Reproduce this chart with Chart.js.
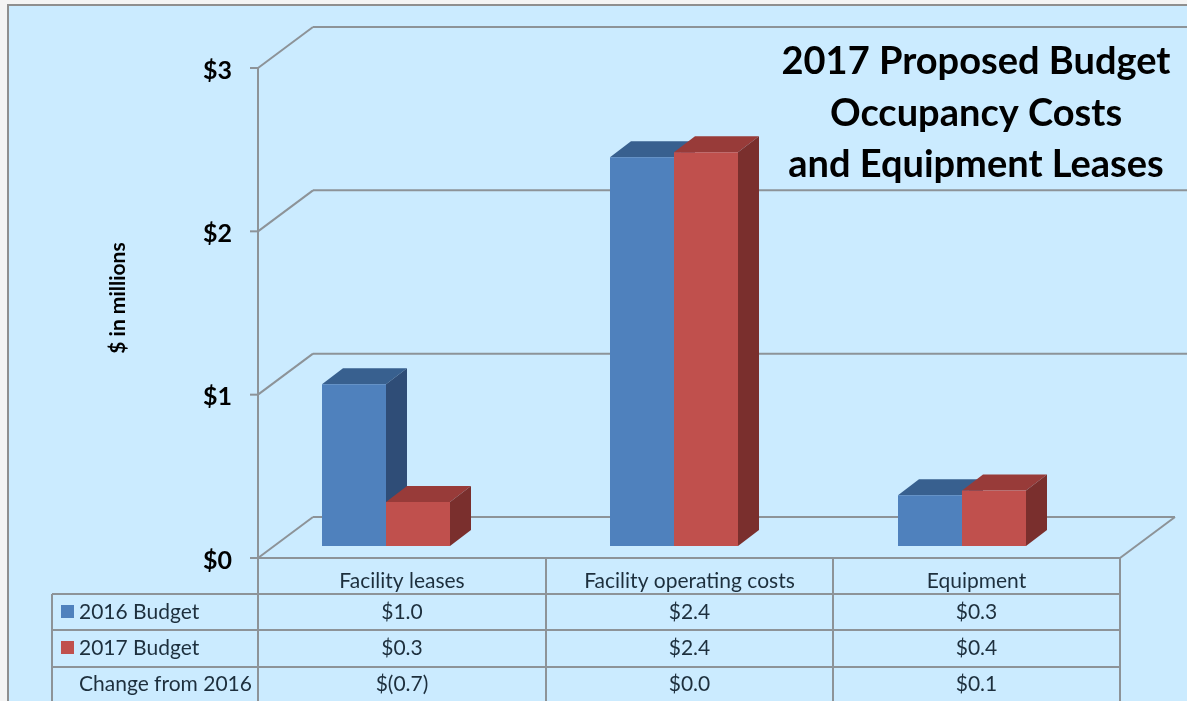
<!DOCTYPE html>
<html lang="en">
<head>
    <meta charset="UTF-8">
    <title>2017 Proposed Budget</title>
    <script src="https://cdn.jsdelivr.net/npm/chart.js"></script>
    <style>
        body { margin: 0; background: #f4f4f4; }
        canvas { display: block; }
    </style>
</head>
<body>
    <canvas id="budgetChart" width="1187" height="701"></canvas>

    <script>
        const categories = ['Facility leases', 'Facility operating costs', 'Equipment'];
        const budget2016 = [0.99, 2.38, 0.31];
        const budget2017 = [0.27, 2.41, 0.34];
        const yTicks = [0, 1, 2, 3];

        // rows of the data table under the chart, as printed
        const rowNames = ['2016 Budget', '2017 Budget', 'Change from 2016'];
        const row2016 = ['$1.0', '$2.4', '$0.3'];
        const row2017 = ['$0.3', '$2.4', '$0.4'];
        const rowChange = ['$(0.7)', '$0.0', '$0.1'];
        const titleLines = ['2017 Proposed Budget', 'Occupancy Costs', 'and Equipment Leases'];

        const FONT = 'Lato, sans-serif';
        const GRID = '#8d9398';
        const TEXT = '#1d2f3d';

        // fake 3D: wall depth and bar depth in pixels
        const wallX = 55, wallY = 41;
        const barX = 21, barY = 16;
        const wallLeft = 258, wallRight = 1120;
        const colEdges = [258, 546, 833, 1120];
        const rowEdges = [558, 594, 630, 667, 701];
        // tick labels sit slightly below their tick marks
        const labelDrop = 2.5;

        function line(ctx, x1, y1, x2, y2) {
            ctx.beginPath();
            ctx.moveTo(x1, y1);
            ctx.lineTo(x2, y2);
            ctx.stroke();
        }

        function poly(ctx, pts, color) {
            ctx.fillStyle = color;
            ctx.beginPath();
            pts.forEach((p, i) => i ? ctx.lineTo(p[0], p[1]) : ctx.moveTo(p[0], p[1]));
            ctx.closePath();
            ctx.fill();
        }

        const scenery = {
            id: 'scenery',
            beforeDraw(chart) {
                const ctx = chart.ctx;
                const y = chart.scales.y;

                // panel
                ctx.fillStyle = '#cbebff';
                ctx.fillRect(8, 5, 1179, 696);
                ctx.fillStyle = '#8f8f8f';
                ctx.fillRect(7, 4, 1180, 2);
                ctx.fillRect(7, 4, 2, 697);

                // walls and floor
                ctx.strokeStyle = GRID;
                ctx.lineWidth = 2;
                line(ctx, wallLeft, y.getPixelForValue(3) - labelDrop, wallLeft, y.getPixelForValue(0) - labelDrop);
                yTicks.forEach(v => {
                    const py = y.getPixelForValue(v) - labelDrop;
                    const backEnd = v === 0 ? wallRight + wallX : 1187;
                    line(ctx, wallLeft - 8, py, wallLeft, py);
                    line(ctx, wallLeft, py, wallLeft + wallX, py - wallY);
                    line(ctx, wallLeft + wallX, py - wallY, backEnd, py - wallY);
                });
                const floorY = y.getPixelForValue(0) - labelDrop;
                line(ctx, wallRight, floorY, wallRight + wallX, floorY - wallY);
            },
            beforeDatasetsDraw(chart) {
                const ctx = chart.ctx;
                const tops = ['#38608f', '#983b39'];
                const sides = ['#2f4d77', '#7a2f2d'];
                chart.data.datasets.forEach((ds, i) => {
                    chart.getDatasetMeta(i).data.forEach(bar => {
                        const l = bar.x - bar.width / 2;
                        const r = bar.x + bar.width / 2;
                        poly(ctx, [[l, bar.y], [l + barX, bar.y - barY], [r + barX, bar.y - barY], [r, bar.y]], tops[i]);
                        poly(ctx, [[r, bar.y], [r + barX, bar.y - barY], [r + barX, bar.base - barY], [r, bar.base]], sides[i]);
                    });
                });
            },
            afterDraw(chart) {
                const ctx = chart.ctx;

                // title
                ctx.fillStyle = '#000';
                ctx.font = 'bold 38px ' + FONT;
                ctx.textAlign = 'center';
                ctx.textBaseline = 'middle';
                titleLines.forEach((t, i) => ctx.fillText(t, 976, 62 + i * 51.5));

                // axis title
                ctx.save();
                ctx.translate(118, 298);
                ctx.rotate(-Math.PI / 2);
                ctx.font = 'bold 21px ' + FONT;
                ctx.fillText('$ in millions', 0, 0);
                ctx.restore();

                // data table
                ctx.strokeStyle = GRID;
                ctx.lineWidth = 2;
                line(ctx, wallLeft, rowEdges[0], wallRight, rowEdges[0]);
                rowEdges.slice(1, 4).forEach(py => line(ctx, 52, py, wallRight, py));
                line(ctx, 52, rowEdges[1], 52, 701);
                colEdges.forEach(px => line(ctx, px, rowEdges[0], px, 701));

                ctx.fillStyle = TEXT;
                ctx.font = '21px ' + FONT;
                categories.forEach((c, i) => {
                    const cx = (colEdges[i] + colEdges[i + 1]) / 2;
                    ctx.fillText(c, cx, 581);
                    ctx.fillText(row2016[i], cx, 612);
                    ctx.fillText(row2017[i], cx, 648);
                    ctx.fillText(rowChange[i], cx, 684);
                });

                ctx.textAlign = 'left';
                rowNames.forEach((name, i) => ctx.fillText(name, 79, 612 + i * 36));
                chart.data.datasets.forEach((ds, i) => {
                    ctx.fillStyle = ds.backgroundColor;
                    ctx.fillRect(61, 605 + i * 36, 13, 13);
                });
            }
        };

        new Chart(document.getElementById('budgetChart'), {
            type: 'bar',
            data: {
                labels: categories,
                datasets: [{
                    label: '2016 Budget',
                    data: budget2016,
                    backgroundColor: '#4f81bd',
                    yAxisID: 'yBar'
                }, {
                    label: '2017 Budget',
                    data: budget2017,
                    backgroundColor: '#c0504d',
                    yAxisID: 'yBar'
                }]
            },
            options: {
                responsive: false,
                animation: false,
                categoryPercentage: 128 / 288,
                barPercentage: 1,
                layout: { padding: { top: 70.5, right: 81, bottom: 140.5 } },
                plugins: {
                    legend: { display: false },
                    tooltip: { enabled: false }
                },
                scales: {
                    x: { display: false },
                    y: {
                        min: 0,
                        max: 3,
                        afterFit(scale) { scale.width = 242; },
                        border: { display: false },
                        grid: { display: false, drawTicks: false },
                        ticks: {
                            stepSize: 1,
                            padding: 10,
                            color: '#000',
                            font: { family: FONT, size: 25, weight: 'bold' },
                            callback: v => '$' + v
                        }
                    },
                    // bars stand a little way into the floor, so their zero sits above the wall's zero
                    yBar: { display: false, min: -0.0888, max: 2.9112 }
                }
            },
            plugins: [scenery]
        });
    </script>
</body>
</html>
